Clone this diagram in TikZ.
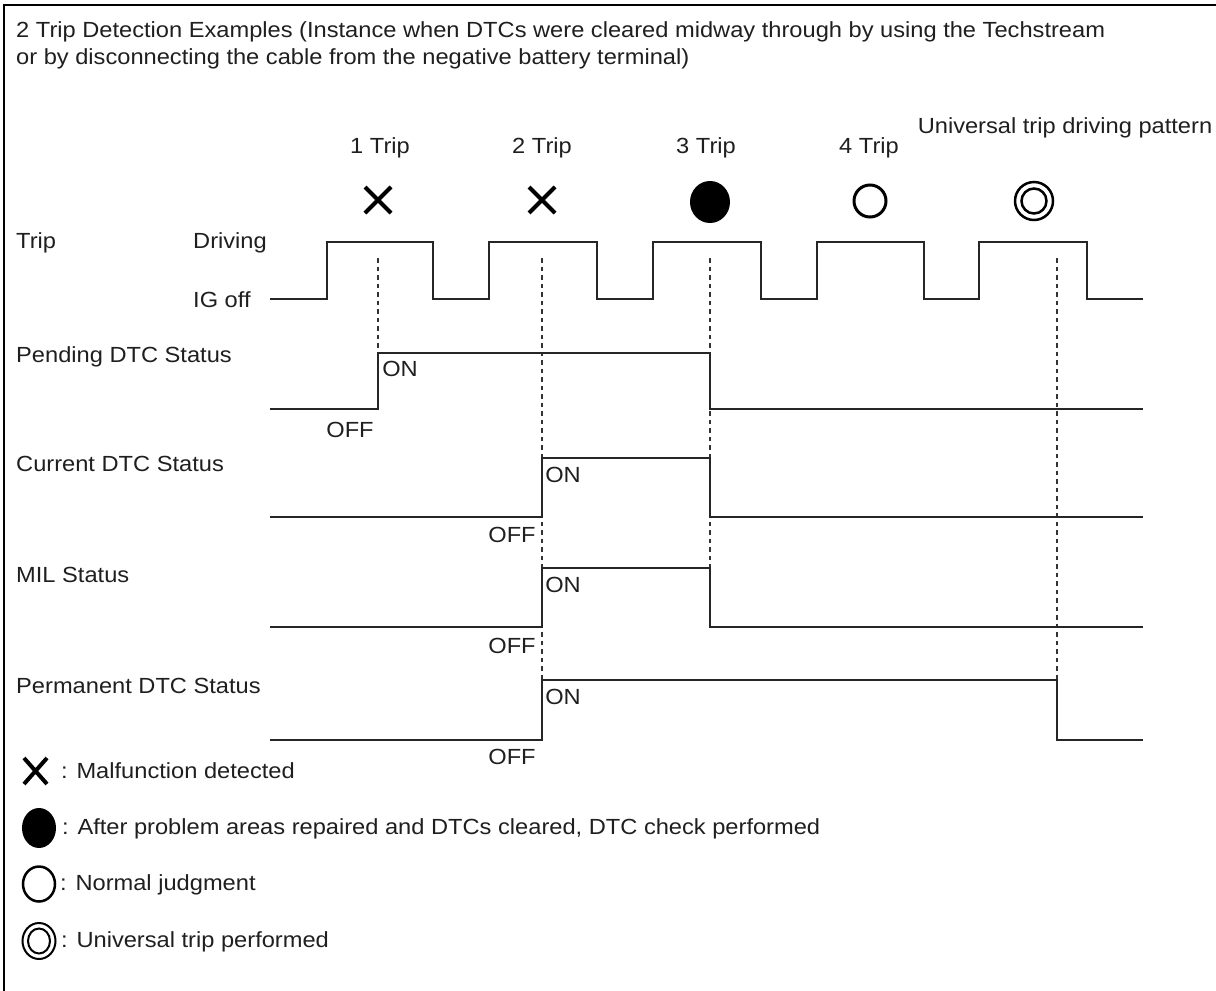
\documentclass[tikz,border=0pt]{standalone}
\usepackage{fontspec}
\setmainfont[FakeStretch=1.08]{Liberation Sans}
\begin{document}
\begin{tikzpicture}[x=1pt,y=-1pt,
  txt/.style={inner sep=0pt,font=\fontsize{21.9}{27}\selectfont,text=black!88},
  wave/.style={line width=2pt,black!85},
  guide/.style={line width=1.3pt,black!80,dash pattern=on 4.5pt off 4pt},
  sym/.style={line width=4pt,black}]
\useasboundingbox (0,0) rectangle (1216,991);
\draw[line width=2.5pt] (4,991) -- (4,5) -- (1216,5);
% title
\node[txt,anchor=north west,align=left] (title) at (16,21) {2 Trip Detection Examples (Instance when DTCs were cleared midway through by using the Techstream\\or by disconnecting the cable from the negative battery terminal)};
% trip labels
\node[txt] (t1) at (380,148) {1 Trip};
\node[txt] (t2) at (542,148) {2 Trip};
\node[txt] (t3) at (706,148) {3 Trip};
\node[txt] (t4) at (869,148) {4 Trip};
\node[txt] (tu) at (1065,128) {Universal trip driving pattern};
% symbols
\draw[sym] (365,187) -- (391,213) (365,213) -- (391,187);
\draw[sym] (529,187) -- (555,213) (529,213) -- (555,187);
\fill (710,202) ellipse [x radius=20,y radius=21];
\draw[line width=3pt] (870,201) circle [radius=16];
\draw[line width=2.5pt] (1034,201) circle [radius=19];
\draw[line width=2.5pt] (1034,201) circle [radius=12.5];
% row labels
\node[txt,anchor=west] (ltrip) at (16,243) {Trip};
\node[txt,anchor=west] (ldrv) at (193,243) {Driving};
\node[txt,anchor=west] (lig) at (193,300) {IG off};
\node[txt,anchor=west] (lpend) at (16,357) {Pending DTC Status};
\node[txt,anchor=west] (lcur) at (16,464) {Current DTC Status};
\node[txt,anchor=west] (lmil) at (16,575) {MIL Status};
\node[txt,anchor=west] (lperm) at (16,686) {Permanent DTC Status};
% guides
\draw[guide] (378,258) -- (378,353);
\draw[guide] (542,258) -- (542,680);
\draw[guide] (710,258) -- (710,627);
\draw[guide] (1057,258) -- (1057,680);
% trip wave
\draw[wave] (270,299) -- (327,299) -- (327,242) -- (433,242) -- (433,299) -- (489,299) -- (489,242) -- (597,242) -- (597,299) -- (653,299) -- (653,242) -- (761,242) -- (761,299) -- (817,299) -- (817,242) -- (924,242) -- (924,299) -- (979,299) -- (979,242) -- (1087,242) -- (1087,299) -- (1143,299);
% pending
\draw[wave] (270,409) -- (378,409) -- (378,353) -- (710,353) -- (710,409) -- (1143,409);
\node[txt] (pon) at (400,369) {ON};
\node[txt] (poff) at (350,430) {OFF};
% current
\draw[wave] (270,517) -- (542,517) -- (542,458) -- (710,458) -- (710,517) -- (1143,517);
\node[txt] (con) at (563,475) {ON};
\node[txt] (coff) at (512,535) {OFF};
% MIL
\draw[wave] (270,627) -- (542,627) -- (542,568) -- (710,568) -- (710,627) -- (1143,627);
\node[txt] (mon) at (563,585) {ON};
\node[txt] (moff) at (512,646) {OFF};
% permanent
\draw[wave] (270,740) -- (542,740) -- (542,680) -- (1057,680) -- (1057,740) -- (1143,740);
\node[txt] (pmon) at (563,697) {ON};
\node[txt] (pmoff) at (512,757) {OFF};
% legend
\draw[line width=4pt] (24,758) -- (47,784) (24,784) -- (47,758);
\node[txt,anchor=west] (lg1) at (61,771) {: Malfunction detected};
\fill (39,828) ellipse [x radius=17,y radius=20];
\node[txt,anchor=west] (lg2) at (62,829) {: After problem areas repaired and DTCs cleared, DTC check performed};
\draw[line width=2.5pt] (39,884) ellipse [x radius=16,y radius=17.5];
\node[txt,anchor=west] (lg3) at (60,885) {: Normal judgment};
\draw[line width=2pt] (39,941) ellipse [x radius=16.5,y radius=18];
\draw[line width=2pt] (39,941) ellipse [x radius=11,y radius=12.5];
\node[txt,anchor=west] (lg4) at (61,942) {: Universal trip performed};
\end{tikzpicture}
\end{document}
